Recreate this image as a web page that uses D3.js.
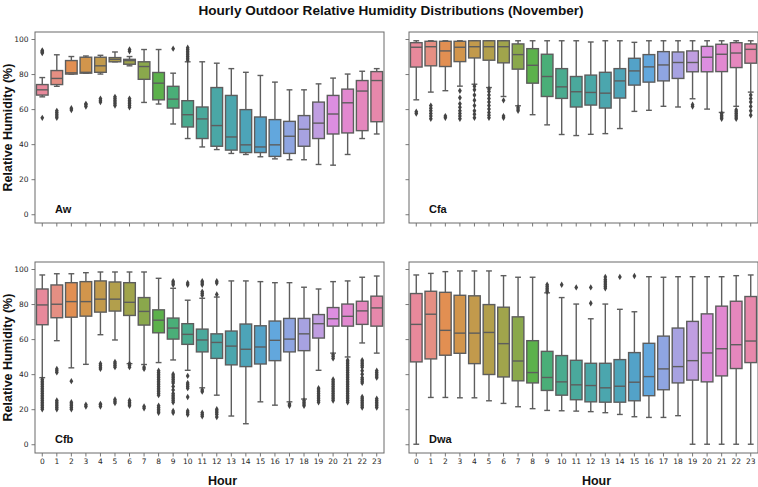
<!DOCTYPE html>
<html>
<head>
<meta charset="utf-8">
<script src="https://cdn.jsdelivr.net/npm/d3@7"></script>
<style>
  body { margin: 0; background: #fff; }
  svg { display: block; }
  text { font-family: "Liberation Sans", Arial, sans-serif; }
  .tick text { font-family: "DejaVu Sans", sans-serif; font-size: 7.5px; fill: #262626; }
</style>
</head>
<body>
<div id="chart"></div>
<script>
'use strict';

// hours on the x axis
var hours = d3.range(24);
var climates = ["Aw", "Cfa", "Cfb", "Dwa"];
var yTicks = [0, 20, 40, 60, 80, 100];

// per hour: [lower whisker, q1, median, q3, upper whisker]
var awStats = [
  [67, 68, 71, 74, 78], [73, 74, 77.5, 82, 91], [80, 80, 80.7, 87.7, 90], [80.5, 80.5, 81, 89.6, 90.3],
  [80, 81, 84.7, 89.6, 90.7], [87, 87, 88.4, 89.4, 92.6], [84.7, 85.6, 87.7, 88.4, 90], [63.8, 77, 84.3, 87, 94],
  [62.9, 65.3, 74.8, 80.9, 94], [51.5, 60.6, 65.7, 73, 80.5], [43.2, 49.8, 56.8, 64.8, 87], [38.4, 43.2, 54.4, 61.2, 87],
  [36.9, 38.8, 50.6, 72.3, 86.2], [34.7, 36.6, 44.1, 67.8, 83.1], [34.1, 35.2, 39.6, 59.7, 81], [32.8, 35.2, 38.4, 55.5, 79.2],
  [31.6, 33, 39.6, 54, 75.4], [31.1, 34.7, 44.5, 53, 71], [31.1, 38.8, 48.5, 56.3, 71], [28.4, 43.2, 52, 64, 74.4],
  [28, 45.8, 57.2, 67.8, 77.7], [34.1, 46.4, 63.6, 71.4, 80], [43.2, 47.7, 70.3, 76.3, 81.6], [45.8, 52.8, 76.3, 81.4, 83.1]
];
var awOutliers = [
  [55, 92, 92.5, 93, 93.5], [55, 56, 57, 58, 59], [59.5, 60.5], [61.5, 62.5, 63], [64, 65, 66],
  [62, 63, 64, 65, 66, 67], [61, 62, 63, 64, 65, 66, 93, 94], [], [], [94.5],
  [88, 89, 90, 91, 92, 93, 94, 95], [], [], [], [], [], [], [], [], [], [], [], [], []
];

var cfaStats = [
  [65.3, 84, 95.3, 97.9, 99], [69.7, 84.7, 95.6, 98.7, 99], [70.5, 84.3, 93.2, 98.7, 99], [73.1, 87.1, 95.3, 98.7, 99],
  [74.2, 89.2, 95.6, 99, 99], [72.3, 87.9, 95.6, 99, 99], [67.2, 86.4, 95.6, 99, 99], [61.9, 82.8, 91.1, 97.2, 99],
  [56.8, 74.8, 85, 94.5, 99], [51, 67.2, 78.6, 91.3, 99], [45.5, 66.1, 72.7, 83.1, 99], [44.9, 61.2, 69.9, 78.6, 99],
  [45.6, 62.3, 69.5, 79.4, 98.3], [46, 60.6, 69.1, 81, 99], [48.9, 66.3, 76.1, 83.1, 99], [58.7, 73.7, 81.8, 89, 98.1],
  [59.3, 75.4, 84.1, 91.1, 99], [61.6, 76.1, 85.2, 92.8, 99], [61.2, 77.5, 86.6, 92.6, 99], [65.9, 81.3, 86.6, 93.2, 99],
  [60, 81.3, 89.6, 95.8, 99], [58.1, 81.4, 91.3, 97, 99], [61.6, 83.7, 92, 97.9, 99], [69.7, 86.2, 94.1, 97.2, 99]
];
var cfaOutliers = [
  [57.5, 58.5], [54.5, 56, 57.5, 59, 60.5, 62], [55, 56], [54.5, 56, 57.5, 59, 61, 63, 66.5, 70.5],
  [55, 57, 59, 62, 65, 68, 71, 73], [55, 56.5, 58, 60, 62, 64, 66, 68, 70, 71.5], [55, 56, 65], [59, 60, 61],
  [], [], [], [], [], [], [], [], [], [], [], [61.5, 62.5], [], [54.5, 55.5, 56.5, 57.5],
  [54.5, 55.5, 56.5, 57.5, 58.5, 59.5], [56.5, 59, 61.5, 64, 66, 68]
];

var cfbStats = [
  [38, 68.2, 79.5, 88.6, 96.6], [59.1, 72.2, 79.9, 90.9, 97.3], [43.6, 72.5, 81.4, 92.2, 97.3], [45.6, 73.1, 81.4, 92.8, 97.9],
  [62.5, 75.4, 82.8, 93.2, 98.3], [59.5, 76, 82.8, 92.6, 98.3], [46, 73.5, 81, 92.2, 98.3], [45.5, 68, 75.8, 83.7, 98.3],
  [46.6, 63.6, 70.8, 76.7, 94.7], [48.1, 60, 66.3, 72, 89], [42.2, 57, 62.7, 68.8, 82.2], [32.2, 52.7, 59.5, 65.7, 83.3],
  [28, 49, 58.1, 63, 84], [16.1, 45.3, 56, 64.6, 93.2], [11.7, 44.3, 54.2, 68.6, 93.2], [24.2, 45.8, 55.5, 67.6, 92.8],
  [22.3, 47.7, 59.3, 70.3, 92.2], [24.2, 52.7, 60, 71.8, 92.2], [25.8, 53.4, 63, 71.8, 89.6], [42.2, 60.6, 68.8, 74, 88.6],
  [52, 67.4, 71.6, 78, 92.8], [49.8, 67.4, 73, 80, 93.2], [57.8, 68.4, 76.1, 81.6, 95.3], [52, 67.4, 77.8, 84.5, 96]
];
var cfbOutliers = [
  [20, 21, 22, 23, 24, 25, 26, 27, 28, 29, 30, 31, 32, 33, 34, 35, 36, 37],
  [20, 21, 22, 23, 24, 25, 41, 42, 43],
  [20, 21, 22, 23, 24, 36],
  [21.5, 22.5],
  [21.5, 22.5, 23, 43, 44, 45, 46],
  [23.5, 24.5, 25.5, 44, 45, 46, 47],
  [22, 23, 24, 25, 44, 45, 46],
  [20.5, 21.5, 43, 44],
  [18, 19, 20, 21, 22, 28, 29, 30, 31, 32, 33, 34, 35, 36, 37, 38, 39, 40, 41, 42],
  [18, 19, 24, 25, 26, 27, 28, 29, 31, 33, 35, 36, 37, 38, 39, 40, 91, 92, 93],
  [17, 18, 19, 27, 32, 33, 34, 35, 39, 91, 92],
  [16, 17, 18, 30, 31, 85, 86, 87, 91, 92, 93],
  [15.5, 17, 18, 19, 20, 85.5, 92, 93],
  [], [], [], [],
  [22, 23],
  [22, 23, 24, 25],
  [24, 25, 26, 27, 28, 29, 30, 31, 32],
  [25, 26, 27, 28, 29, 30, 31, 32, 33, 34, 35, 36, 37, 49, 50, 51],
  [24, 25, 26, 27, 28, 29, 30, 31, 32, 33, 34, 35, 36, 37, 38, 39, 40, 41, 42, 43, 44, 45, 46, 47, 48],
  [21, 22, 23, 24, 25, 26, 27, 35, 36, 37, 38, 40, 42, 44, 45, 46, 47, 48],
  [21, 22, 23, 24, 25, 26, 38, 39, 40, 41, 42]
];

var dwaStats = [
  [0, 47, 68.4, 86, 96.6], [26.7, 48.7, 74.2, 87.3, 97.5], [26.7, 50.8, 65, 86.7, 98.5], [26.5, 51.9, 63.4, 85, 98.9],
  [26.5, 46, 63.4, 84.7, 98.9], [24.8, 39.8, 63.8, 79.7, 98.9], [23.3, 38.4, 57.4, 78.2, 96.2], [21.4, 36.2, 47.5, 72.7, 95.3],
  [20.3, 35, 40.9, 59.1, 95.3], [19.3, 30.7, 38.1, 53, 86.4], [19.1, 28, 35.6, 50.6, 83.7], [18.9, 25.4, 33.9, 47.9, 80],
  [18.6, 24.2, 33.5, 46.2, 71.6], [18, 24, 32.2, 46.2, 80], [17, 24, 33.1, 48.3, 77], [15.7, 24.8, 35.4, 52.3, 75.6],
  [15.3, 27.7, 38.6, 57.6, 95.6], [15.3, 31.1, 43, 61.7, 95.3], [16.3, 35, 44.3, 66.3, 95.6], [0, 36.6, 47.7, 70.1, 95.6],
  [0, 35.6, 52.1, 74.4, 95.6], [0, 39, 54.5, 78.8, 95.6], [0, 43.2, 56.8, 81.6, 96.2], [0, 46.6, 58.9, 84.3, 96.6]
];
var dwaOutliers = [
  [], [], [], [], [], [], [], [], [],
  [87, 88, 89, 90, 91], [91], [89.5], [80.5, 89.5], [89, 90, 91, 92, 93, 94, 95.5], [95.5], [96],
  [], [], [], [], [], [], [], []
];

// seaborn husl palette (desaturated) for 24 hours
var palette = [
  "#e8899b", "#e58f83", "#e28f52", "#d2954c", "#c29a4c", "#b29f4c", "#a0a44c", "#8aa84c",
  "#5cb14b", "#4aae78", "#4aab8f", "#4aa99c", "#4aa7a6", "#4ba6ae", "#4da4b8", "#53a2c8",
  "#62a7dd", "#8fa5e1", "#a7a2e1", "#c09ee1", "#dc8ee0", "#e288d0", "#e587bd", "#e788ab"
];

var W = 758, H = 487;
var panels = [
  { name: climates[0], stats: awStats, out: awOutliers, x: 35, y: 32, ylab: true, xlab: false },
  { name: climates[1], stats: cfaStats, out: cfaOutliers, x: 409, y: 32, ylab: false, xlab: false },
  { name: climates[2], stats: cfbStats, out: cfbOutliers, x: 35, y: 262, ylab: true, xlab: true },
  { name: climates[3], stats: dwaStats, out: dwaOutliers, x: 409, y: 262, ylab: false, xlab: true }
];
var pw = 349, ph = 191;
var lineColor = "#5d5d5d";

var svg = d3.select("#chart").append("svg")
  .attr("width", W).attr("height", H);

svg.append("text")
  .attr("x", W / 2 + 12).attr("y", 15)
  .attr("text-anchor", "middle")
  .style("font-weight", "bold").style("font-size", "13.6px")
  .attr("fill", "#111")
  .text("Hourly Outdoor Relative Humidity Distributions (November)");

var x = d3.scaleBand().domain(hours).range([0, pw]).paddingInner(0.2).paddingOuter(0.1);
var y = d3.scaleLinear().domain([-5, 104]).range([ph, 0]);
var diamond = "M0,-3.2L1.9,0L0,3.2L-1.9,0Z";

panels.forEach(function(p){
  var g = svg.append("g").attr("transform", "translate(" + p.x + "," + p.y + ")");

  var yAxis = d3.axisLeft(y).tickValues(yTicks).tickSize(3.5).tickPadding(3);
  if (!p.ylab) yAxis.tickFormat("");
  var ya = g.append("g").call(yAxis);
  var xAxis = d3.axisBottom(x).tickSize(3.5).tickPadding(2.5);
  if (!p.xlab) xAxis.tickFormat("");
  var xa = g.append("g").attr("transform", "translate(0," + ph + ")").call(xAxis);
  [ya, xa].forEach(function(a){
    a.select(".domain").remove();
    a.selectAll(".tick line").attr("stroke", "#555").attr("stroke-width", 0.8);
  });

  var boxes = g.append("g").selectAll("g")
    .data(p.stats.map(function(s, i){ return { h: hours[i], s: s, o: p.out[i] }; }))
    .join("g")
      .attr("transform", function(d){ return "translate(" + x(d.h) + ",0)"; });

  var bw = x.bandwidth();
  var cx = bw / 2;

  boxes.append("line")
    .attr("x1", cx).attr("x2", cx)
    .attr("y1", function(d){ return y(d.s[0]); }).attr("y2", function(d){ return y(d.s[1]); })
    .attr("stroke", lineColor).attr("stroke-width", 1.4);
  boxes.append("line")
    .attr("x1", cx).attr("x2", cx)
    .attr("y1", function(d){ return y(d.s[3]); }).attr("y2", function(d){ return y(d.s[4]); })
    .attr("stroke", lineColor).attr("stroke-width", 1.4);
  boxes.selectAll(".cap")
    .data(function(d){ return [d.s[0], d.s[4]]; })
    .join("line").attr("class", "cap")
      .attr("x1", cx - bw / 4).attr("x2", cx + bw / 4)
      .attr("y1", function(v){ return y(v); }).attr("y2", function(v){ return y(v); })
      .attr("stroke", lineColor).attr("stroke-width", 1.4);
  boxes.append("rect")
    .attr("x", 0).attr("width", bw)
    .attr("y", function(d){ return y(d.s[3]); })
    .attr("height", function(d){ return Math.max(0.5, y(d.s[1]) - y(d.s[3])); })
    .attr("fill", function(d){ return palette[d.h]; })
    .attr("stroke", lineColor).attr("stroke-width", 1.4);
  boxes.append("line")
    .attr("x1", 0).attr("x2", bw)
    .attr("y1", function(d){ return y(d.s[2]); }).attr("y2", function(d){ return y(d.s[2]); })
    .attr("stroke", lineColor).attr("stroke-width", 1.4);
  boxes.selectAll(".flier")
    .data(function(d){ return d.o; })
    .join("path").attr("class", "flier")
      .attr("d", diamond)
      .attr("transform", function(v){ return "translate(" + cx + "," + y(v) + ")"; })
      .attr("fill", "#444");

  g.append("rect")
    .attr("width", pw).attr("height", ph)
    .attr("fill", "none").attr("stroke", "#6a6a6a").attr("stroke-width", 1);

  g.append("text")
    .attr("x", 20).attr("y", ph - 10)
    .style("font-weight", "bold").style("font-size", "11px")
    .attr("fill", "#111")
    .text(p.name);

  if (p.ylab) {
    g.append("text")
      .attr("transform", "translate(" + (-23) + "," + (ph / 2) + ") rotate(-90)")
      .attr("text-anchor", "middle")
      .style("font-weight", "bold").style("font-size", "12.5px")
      .attr("fill", "#111")
      .text("Relative Humidity (%)");
  }
  if (p.xlab) {
    g.append("text")
      .attr("x", pw / 2 + 13).attr("y", ph + 32)
      .attr("text-anchor", "middle")
      .style("font-weight", "bold").style("font-size", "12.5px")
      .attr("fill", "#111")
      .text("Hour");
  }
});
</script>
</body>
</html>
